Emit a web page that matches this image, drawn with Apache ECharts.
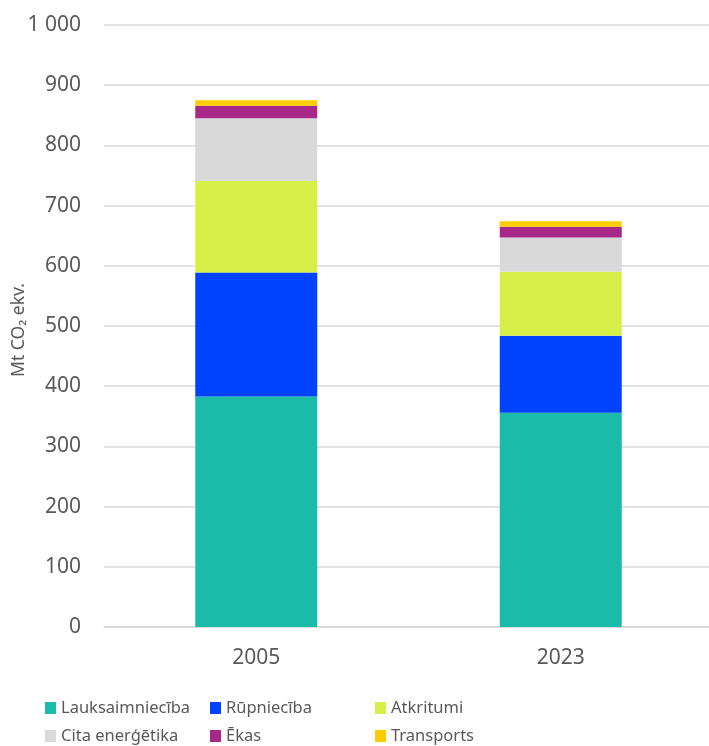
<!DOCTYPE html>
<html>
<head>
<meta charset="utf-8">
<script src="https://cdn.jsdelivr.net/npm/echarts@6/dist/echarts.min.js"></script>
<style>html,body{margin:0;padding:0;background:#fff}#c{width:709px;height:746px}</style>
</head>
<body>
<div id="c"></div>
<script>
const categories = ['2005', '2023'];
const seriesNames = ['Lauksaimniecība', 'Rūpniecība', 'Atkritumi', 'Cita enerģētika', 'Ēkas', 'Transports'];
const lauksaimnieciba = [383, 356];
const rupnieciba = [206, 128];
const atkritumi = [152, 106];
const citaEnergetika = [104, 57];
const ekas = [21, 18];
const transports = [9, 9];
const yTicks = [0, 100, 200, 300, 400, 500, 600, 700, 800, 900, 1000];

const values = [lauksaimnieciba, rupnieciba, atkritumi, citaEnergetika, ekas, transports];
const colors = ['#1ABBA8', '#0043FF', '#D5EF48', '#D9D9D9', '#A8288A', '#FFCC00'];
const font = 'Noto Sans';
const textColor = '#595959';

const chart = echarts.init(document.getElementById('c'));
const legendLeft = [45, 210, 375];
const legendTop = [698, 726];
chart.setOption({
  animation: false,
  grid: { left: 104, top: 25, width: 609, height: 602, containLabel: false, outerBoundsMode: 'none' },
  legend: seriesNames.map((name, i) => ({
    orient: 'horizontal',
    left: legendLeft[i % 3],
    top: legendTop[Math.floor(i / 3)],
    itemWidth: 11,
    itemHeight: 12,
    itemGap: 0,
    icon: 'rect',
    padding: 0,
    data: [name],
    textStyle: { color: textColor, fontFamily: font, fontSize: 16.5, lineHeight: 20 },
    selectedMode: false
  })),
  xAxis: {
    type: 'category',
    data: categories,
    axisLine: { lineStyle: { color: '#D9D9D9', width: 1.5 } },
    axisTick: { show: false },
    axisLabel: { color: textColor, fontFamily: font, fontSize: 21, margin: 21 }
  },
  yAxis: {
    type: 'value',
    min: 0,
    max: 1000,
    interval: 100,
    name: 'Mt CO₂ ekv.',
    nameLocation: 'middle',
    nameGap: 76,
    nameRotate: 90,
    nameMoveOverlap: false,
    nameTextStyle: { color: textColor, fontFamily: font, fontSize: 17.5, padding: [0, 8, 0, 0] },
    axisLine: { show: false },
    axisTick: { show: false },
    splitLine: { lineStyle: { color: '#D9D9D9', width: 1.5 } },
    axisLabel: {
      color: textColor, fontFamily: font, fontSize: 21, margin: 23,
      formatter: v => yTicks.includes(v) ? String(v).replace(/\B(?=(\d{3})+(?!\d))/g, ' ') : ''
    }
  },
  series: seriesNames.map((name, i) => ({
    name,
    type: 'bar',
    stack: 'total',
    barWidth: 122,
    data: values[i],
    itemStyle: { color: colors[i] }
  }))
});
</script>
</body>
</html>
